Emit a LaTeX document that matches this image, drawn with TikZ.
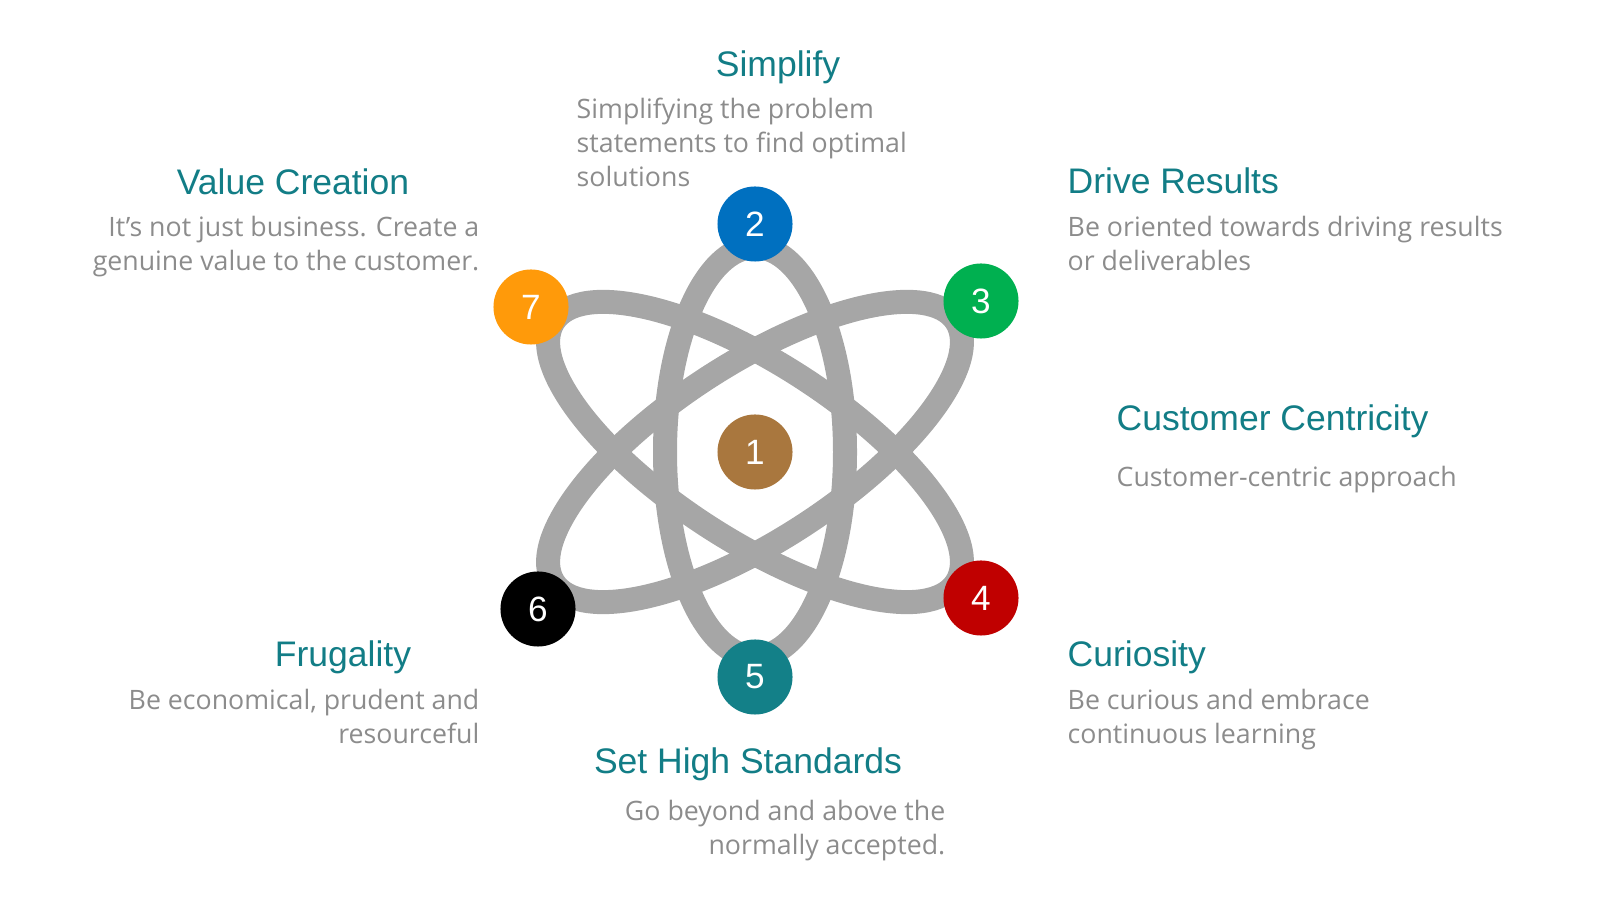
\documentclass[tikz,border=0pt]{standalone}
\usepackage{fontspec}
\setmainfont{Liberation Sans}
\newfontfamily\blurbfont{Open Sans}
\definecolor{orbitgray}{HTML}{A6A6A6}
\definecolor{headteal}{HTML}{127D86}
\definecolor{blurbgray}{HTML}{8C8C8C}
\definecolor{ballbrown}{HTML}{A9773E}
\definecolor{ballblue}{HTML}{0070C0}
\definecolor{ballgreen}{HTML}{00B050}
\definecolor{ballred}{HTML}{C00000}
\definecolor{ballteal}{HTML}{138088}
\definecolor{ballorange}{HTML}{FF9A0A}

\begin{document}
\begin{tikzpicture}[x=0.01cm, y=0.01cm,
    orbit/.style={draw=orbitgray, line width=0.24cm},
    ball/.style={circle, fill=#1, minimum size=0.75cm, inner sep=0pt, text=white,
        font=\fontsize{10}{12}\selectfont},
    head/.style={text=headteal, font=\fontsize{10.1}{12}\selectfont, inner sep=0pt},
    blurb/.style={text=blurbgray, font=\blurbfont\fontsize{7.6}{9.7}\selectfont, inner sep=0pt}]
    \useasboundingbox (0,0) rectangle (1600,900);
    \coordinate (o) at (755,448);
    \draw[orbit] (o) ellipse [x radius=90, y radius=205];
    \draw[orbit, rotate around={33:(o)}] (o) ellipse [x radius=240, y radius=88];
    \draw[orbit, rotate around={-33:(o)}] (o) ellipse [x radius=240, y radius=88];
    \node[ball=ballbrown] (n1) at (o) {1};
    \node[ball=ballblue] (n2) at (755,676) {2};
    \node[ball=ballgreen] (n3) at (981,599) {3};
    \node[ball=ballred] (n4) at (981,302) {4};
    \node[ball=ballteal] (n5) at (755,223) {5};
    \node[ball=black] (n6) at (538,291) {6};
    \node[ball=ballorange] (n7) at (531,593) {7};
    \node[head, anchor=base] (t2) at (778,823) {Simplify};
    \node[blurb, anchor=base west, align=left] (d2) at (576,713)
        {Simplifying the problem\\statements to find optimal\\solutions};
    \node[head, anchor=base] (t7) at (293,705) {Value Creation};
    \node[blurb, anchor=base east, align=right] (d7) at (480,629)
        {It’s not just business. Create a\\genuine value to the customer.};
    \node[head, anchor=base west] (t3) at (1067,706) {Drive Results};
    \node[blurb, anchor=base west, align=left] (d3) at (1067,629)
        {Be oriented towards driving results\\or deliverables};
    \node[head, anchor=base west] (t1) at (1116,469) {Customer Centricity};
    \node[blurb, anchor=base west, align=left] (d1) at (1116,413) {Customer-centric approach};
    \node[head, anchor=base west] (t4) at (1067,233) {Curiosity};
    \node[blurb, anchor=base west, align=left] (d4) at (1067,156)
        {Be curious and embrace\\continuous learning};
    \node[head, anchor=base] (t6) at (343,233) {Frugality};
    \node[blurb, anchor=base east, align=right] (d6) at (480,156)
        {Be economical, prudent and\\resourceful};
    \node[head, anchor=base] (t5) at (748,126) {Set High Standards};
    \node[blurb, anchor=base east, align=right] (d5) at (946,45)
        {Go beyond and above the\\normally accepted.};
\end{tikzpicture}
\end{document}
